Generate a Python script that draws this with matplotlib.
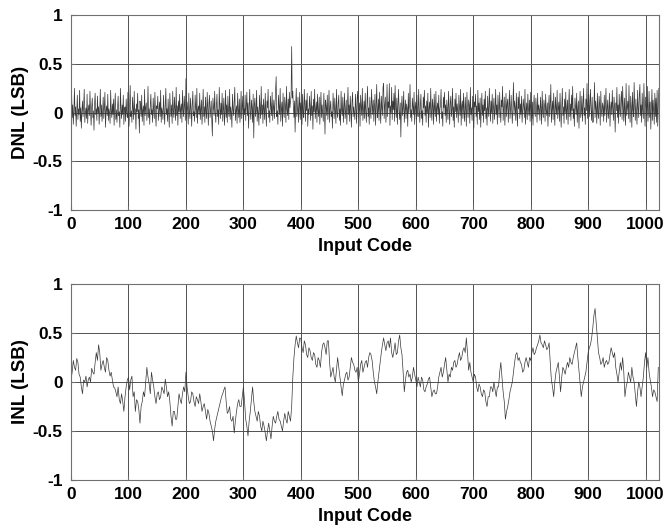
import numpy as np
import matplotlib
matplotlib.use('Agg')
import matplotlib.pyplot as plt

# DNL read per code, INL every 2 codes
dnl_step = 1
dnl = [
    0.03, 0.21, -0.05, 0.08, -0.12, 0.02, 0.25, -0.03, 0.06, -0.14, 0.01, 0.18, -0.07, 0.04, -0.02, 0.23,
    -0.09, 0.05, -0.16, 0.02, 0.12, -0.04, 0.07, 0.24, -0.1, 0.0, 0.05, -0.06, 0.19, -0.11, 0.03, 0.08,
    -0.03, 0.22, 0.01, -0.13, 0.06, 0.15, -0.05, 0.02, -0.18, 0.09, 0.2, -0.02, 0.04, -0.08, 0.17, 0.0,
    0.06, -0.12, 0.03, 0.24, -0.04, 0.08, -0.09, 0.01, 0.16, -0.06, 0.05, 0.21, -0.15, 0.02, 0.07, -0.03,
    0.19, -0.08, 0.04, 0.0, -0.11, 0.23, 0.02, -0.05, 0.09, -0.02, 0.14, -0.13, 0.06, 0.2, -0.07, 0.03,
    -0.1, 0.05, 0.17, -0.03, 0.01, -0.15, 0.25, 0.04, -0.06, 0.08, -0.02, 0.18, -0.12, 0.03, 0.06, -0.09,
    0.14, 0.0, -0.05, 0.21, 0.03, -0.14, 0.07, 0.28, -0.04, 0.02, -0.1, 0.16, 0.05, -0.07, 0.22, -0.02,
    0.04, -0.17, 0.09, 0.01, 0.2, -0.06, 0.03, -0.21, 0.12, 0.06, -0.04, 0.18, -0.09, 0.02, 0.07, -0.13,
    0.24, -0.03, 0.05, 0.1, -0.08, 0.01, 0.27, -0.05, 0.04, -0.12, 0.08, 0.19, -0.02, 0.03, -0.1, 0.15,
    0.02, -0.06, 0.21, 0.0, -0.14, 0.07, 0.04, 0.17, -0.08, 0.02, 0.11, -0.04, 0.23, -0.1, 0.05, 0.01,
    -0.07, 0.18, 0.03, -0.12, 0.06, 0.25, -0.02, 0.04, -0.09, 0.14, 0.0, -0.15, 0.2, 0.05, -0.04, 0.08,
    -0.11, 0.22, 0.02, -0.05, 0.16, 0.03, -0.08, 0.26, -0.03, 0.07, -0.13, 0.12, 0.01, 0.19, -0.06, 0.04,
    0.09, -0.1, 0.23, 0.02, -0.04, 0.17, 0.06, -0.08, 0.35, -0.05, 0.11, 0.03, -0.12, 0.2, 0.0, -0.06,
    0.15, 0.04, -0.14, 0.08, 0.22, -0.03, 0.01, -0.09, 0.18, 0.05, -0.05, 0.25, -0.11, 0.03, 0.07, -0.02,
    0.2, -0.07, 0.04, 0.13, -0.12, 0.02, 0.24, -0.04, 0.06, -0.1, 0.16, 0.01, -0.06, 0.21, 0.03, -0.13,
    0.09, 0.18, -0.05, 0.02, 0.12, -0.08, -0.24, 0.15, 0.06, -0.03, 0.22, 0.0, -0.1, 0.07, 0.19, -0.04,
    0.03, -0.12, 0.26, 0.05, -0.06, 0.1, -0.02, 0.2, -0.09, 0.04, 0.15, -0.13, 0.01, 0.23, -0.05, 0.08,
    -0.1, 0.17, 0.02, -0.04, 0.24, -0.07, 0.06, 0.0, -0.15, 0.19, 0.04, -0.03, 0.11, 0.26, -0.08, 0.02,
    0.07, -0.11, 0.2, 0.03, -0.05, 0.14, -0.1, 0.01, 0.22, -0.06, 0.05, 0.17, -0.13, 0.04, -0.02, 0.18,
    -0.08, 0.06, 0.21, -0.03, 0.1, -0.16, 0.03, 0.24, 0.0, -0.07, 0.13, 0.05, -0.1, 0.19, -0.26, 0.08,
    0.15, -0.04, 0.02, 0.23, -0.09, 0.06, 0.0, -0.13, 0.18, 0.04, -0.06, 0.27, -0.02, 0.08, -0.11, 0.14,
    0.03, -0.07, 0.2, 0.01, -0.14, 0.12, 0.05, 0.24, -0.05, 0.02, -0.1, 0.17, 0.07, -0.03, 0.21, -0.08,
    0.04, 0.13, -0.06, 0.09, 0.22, 0.37, -0.04, 0.02, -0.12, 0.18, 0.06, -0.02, 0.25, -0.09, 0.03, 0.11,
    -0.14, 0.2, 0.01, -0.05, 0.16, 0.07, -0.1, 0.27, 0.03, -0.03, 0.14, -0.07, 0.21, 0.05, 0.12, 0.18,
    0.68, 0.15, 0.22, 0.06, -0.05, 0.12, -0.2, 0.08, 0.25, -0.04, 0.02, 0.16, -0.1, 0.05, 0.21, -0.07,
    0.1, 0.03, -0.12, 0.19, 0.0, -0.05, 0.24, 0.06, -0.09, 0.13, 0.02, 0.2, -0.14, 0.04, -0.02, 0.17,
    0.05, -0.08, 0.22, -0.03, 0.07, -0.17, 0.14, 0.01, 0.24, -0.06, 0.03, 0.11, -0.1, 0.19, 0.02, -0.04,
    0.16, -0.12, 0.04, 0.21, -0.05, 0.08, 0.0, -0.09, 0.2, 0.03, -0.22, 0.13, 0.06, -0.03, 0.18, -0.07,
    0.02, 0.23, -0.1, 0.05, 0.12, -0.04, 0.01, -0.16, 0.2, 0.07, -0.06, 0.15, 0.03, -0.11, 0.24, 0.0,
    -0.05, 0.1, 0.18, -0.08, 0.04, -0.13, 0.22, 0.02, -0.03, 0.16, -0.1, 0.06, 0.2, -0.06, 0.01, 0.13,
    -0.12, 0.05, 0.26, -0.02, 0.08, -0.09, 0.17, 0.03, -0.15, 0.11, 0.21, -0.04, 0.06, 0.0, -0.07, 0.19,
    0.04, -0.11, 0.15, 0.22, -0.05, 0.02, 0.1, -0.14, 0.18, 0.06, -0.03, 0.25, -0.08, 0.03, 0.12, -0.06,
    0.2, 0.01, -0.1, 0.07, 0.27, -0.04, 0.05, -0.12, 0.16, 0.02, -0.06, 0.24, 0.09, -0.02, 0.13, -0.09,
    0.04, 0.19, -0.13, 0.06, 0.29, -0.05, 0.01, 0.14, -0.08, 0.21, 0.03, -0.11, 0.17, 0.05, -0.03, 0.26,
    0.3, -0.06, 0.08, 0.16, -0.1, 0.02, 0.29, -0.04, 0.11, 0.05, 0.3, -0.13, 0.07, 0.0, 0.26, -0.07,
    0.12, 0.03, 0.2, -0.09, 0.28, 0.04, -0.05, 0.15, -0.12, 0.08, 0.24, 0.01, -0.07, 0.1, -0.25, 0.06,
    0.17, -0.03, 0.05, 0.22, -0.1, 0.02, 0.13, -0.06, 0.09, 0.04, -0.14, 0.2, 0.0, 0.07, 0.29, -0.05,
    0.03, -0.09, 0.15, 0.06, -0.02, 0.21, -0.12, 0.05, 0.11, -0.07, 0.18, 0.01, -0.04, 0.24, 0.03, -0.1,
    0.08, 0.19, -0.06, 0.02, -0.13, 0.16, 0.05, 0.23, -0.03, 0.07, -0.1, 0.12, 0.0, 0.2, -0.15, 0.04,
    0.11, -0.05, 0.25, 0.02, -0.08, 0.14, 0.06, -0.12, 0.19, 0.03, -0.04, 0.22, -0.09, 0.05, 0.1, -0.02,
    0.18, -0.11, 0.04, 0.07, 0.24, -0.06, 0.01, -0.14, 0.16, 0.05, 0.21, -0.03, 0.08, -0.1, 0.13, 0.02,
    -0.07, 0.22, 0.04, -0.12, 0.1, 0.17, -0.04, 0.03, 0.25, -0.08, 0.06, -0.15, 0.14, 0.01, 0.2, -0.05,
    0.09, 0.02, -0.1, 0.18, 0.05, -0.03, 0.24, -0.13, 0.07, 0.12, -0.06, 0.2, 0.0, -0.09, 0.16, 0.04,
    -0.14, 0.21, 0.03, -0.05, 0.13, 0.08, -0.11, 0.26, -0.02, 0.05, -0.08, 0.17, 0.02, -0.16, 0.11, 0.06,
    0.19, -0.04, 0.07, -0.12, 0.23, 0.01, 0.1, -0.07, 0.15, -0.15, 0.04, 0.2, -0.03, 0.08, -0.1, 0.14,
    0.02, 0.22, -0.06, 0.05, -0.13, 0.17, 0.03, -0.04, 0.25, 0.06, -0.09, 0.12, 0.0, 0.19, -0.11, 0.04,
    0.15, -0.07, 0.03, 0.24, -0.02, 0.08, -0.12, 0.18, 0.05, -0.05, 0.21, 0.01, -0.1, 0.13, 0.06, 0.27,
    -0.08, 0.04, 0.16, -0.13, 0.02, 0.2, -0.04, 0.09, 0.14, -0.1, 0.05, 0.23, -0.06, 0.03, 0.18, 0.01,
    -0.11, 0.07, 0.31, -0.03, 0.12, 0.05, -0.08, 0.2, 0.0, -0.14, 0.16, 0.04, 0.22, -0.06, 0.09, -0.02,
    0.17, -0.1, 0.03, 0.14, 0.06, -0.05, 0.24, -0.12, 0.02, 0.1, -0.07, 0.19, 0.04, -0.03, 0.13, -0.09,
    0.21, 0.02, -0.06, 0.11, -0.13, 0.07, 0.18, 0.0, -0.04, 0.15, 0.05, -0.1, 0.2, -0.02, 0.08, 0.03,
    -0.08, 0.16, 0.04, -0.12, 0.22, 0.01, -0.05, 0.13, 0.07, -0.09, 0.19, 0.02, -0.03, 0.1, -0.14, 0.06,
    0.18, -0.04, 0.08, 0.29, -0.1, 0.03, 0.12, -0.07, 0.2, 0.01, -0.13, 0.16, 0.05, -0.02, 0.23, -0.06,
    0.04, 0.11, -0.09, 0.2, 0.02, -0.15, 0.07, 0.25, -0.03, 0.06, -0.11, 0.14, 0.0, 0.21, -0.07, 0.03,
    0.13, -0.12, 0.05, 0.24, -0.04, 0.09, -0.08, 0.18, 0.02, 0.27, -0.06, 0.04, -0.14, 0.15, 0.07, -0.02,
    0.2, -0.1, 0.03, 0.12, -0.16, 0.06, 0.22, -0.05, 0.01, 0.17, -0.09, 0.08, 0.25, -0.03, 0.05, -0.12,
    0.14, 0.02, 0.3, -0.06, 0.09, 0.19, -0.04, 0.07, 0.24, 0.03, -0.08, 0.16, -0.1, -0.09, 0.05, 0.31,
    -0.05, 0.12, 0.04, -0.11, 0.2, 0.0, -0.06, 0.17, 0.08, -0.13, 0.22, 0.02, -0.04, 0.1, 0.06, -0.09,
    0.18, -0.03, 0.07, 0.25, -0.1, 0.04, 0.13, -0.06, 0.01, 0.2, -0.14, 0.05, 0.11, -0.02, 0.23, 0.03,
    -0.08, 0.16, 0.06, -0.2, 0.1, 0.02, 0.26, -0.05, 0.08, -0.11, 0.19, 0.03, -0.04, 0.14, 0.22, -0.07,
    0.27, 0.04, -0.09, 0.15, 0.02, -0.13, 0.3, -0.03, 0.06, 0.12, -0.06, 0.28, 0.01, -0.1, 0.17, 0.05,
    -0.15, 0.21, 0.03, -0.04, 0.31, 0.07, -0.08, 0.14, 0.0, -0.12, 0.23, 0.05, -0.05, 0.18, 0.29, -0.03,
    0.08, -0.1, 0.2, 0.02, -0.06, 0.3, 0.04, -0.14, 0.16, 0.06, -0.03, 0.27, -0.09, 0.01, 0.22, -0.05,
    0.11, -0.17, 0.05, 0.24, -0.08, 0.13, 0.02, -0.12, 0.2, -0.04, 0.15, -0.1, 0.23, -0.14, 0.06, 0.25,
]

inl_step = 2
inl = [
    0.02, 0.1, 0.22, 0.15, 0.12, 0.24, 0.2, 0.08, 0.05, -0.05, -0.12, 0.02, 0.0, 0.06, -0.05, 0.02,
    0.05, 0.0, 0.14, 0.1, 0.08, 0.2, 0.3, 0.22, 0.38, 0.3, 0.12, 0.18, 0.22, 0.15, 0.1, 0.25,
    0.22, 0.12, 0.06, 0.1, 0.02, -0.05, -0.06, -0.1, -0.15, -0.05, -0.18, -0.22, -0.12, -0.2, -0.3, -0.15,
    -0.05, 0.02, 0.05, -0.08, 0.02, 0.06, -0.15, -0.1, -0.3, -0.18, -0.2, -0.28, -0.42, -0.25, -0.2, -0.1,
    -0.15, 0.0, 0.15, 0.05, -0.02, -0.12, 0.1, 0.02, -0.05, -0.15, -0.22, -0.12, -0.1, -0.18, -0.15, -0.05,
    -0.08, -0.12, 0.03, -0.05, -0.15, -0.1, -0.2, -0.35, -0.45, -0.3, -0.3, -0.38, -0.38, -0.25, -0.12, -0.18,
    -0.22, -0.12, -0.05, -0.1, 0.1, -0.05, -0.15, -0.22, -0.2, -0.1, -0.12, -0.2, -0.25, -0.15, -0.18, -0.22,
    -0.12, -0.2, -0.3, -0.25, -0.22, -0.3, -0.38, -0.28, -0.32, -0.4, -0.45, -0.5, -0.6, -0.48, -0.4, -0.35,
    -0.3, -0.25, -0.2, -0.15, -0.12, -0.08, -0.05, -0.2, -0.32, -0.3, -0.25, -0.38, -0.4, -0.35, -0.52, -0.4,
    -0.3, -0.22, -0.18, -0.25, -0.25, -0.15, -0.05, -0.2, -0.38, -0.45, -0.55, -0.4, -0.3, -0.18, -0.05, -0.2,
    -0.3, -0.35, -0.4, -0.3, -0.35, -0.45, -0.5, -0.4, -0.45, -0.52, -0.6, -0.5, -0.42, -0.5, -0.58, -0.45,
    -0.35, -0.4, -0.42, -0.35, -0.3, -0.38, -0.4, -0.45, -0.5, -0.4, -0.32, -0.38, -0.42, -0.3, -0.35, -0.4,
    -0.25, 0.05, 0.25, 0.38, 0.47, 0.4, 0.35, 0.45, 0.44, 0.35, 0.3, 0.42, 0.38, 0.28, 0.25, 0.35,
    0.32, 0.25, 0.22, 0.3, 0.28, 0.18, 0.15, 0.25, 0.22, 0.15, 0.3, 0.38, 0.4, 0.35, 0.28, 0.42,
    0.42, 0.2, 0.05, 0.1, 0.15, 0.05, 0.0, 0.12, 0.25, 0.15, 0.05, -0.05, -0.14, -0.02, 0.02, 0.08,
    0.1, 0.02, 0.05, 0.15, 0.25, 0.2, 0.18, 0.12, 0.1, 0.15, 0.0, 0.08, 0.18, 0.22, 0.1, 0.15,
    0.2, 0.22, 0.15, 0.25, 0.3, 0.28, 0.22, 0.1, 0.0, -0.05, -0.12, 0.0, 0.1, 0.2, 0.3, 0.38,
    0.45, 0.38, 0.32, 0.4, 0.42, 0.35, 0.45, 0.3, 0.25, 0.32, 0.4, 0.28, 0.3, 0.42, 0.48, 0.35,
    0.28, 0.1, -0.1, 0.02, 0.1, 0.12, 0.05, 0.08, 0.0, 0.05, 0.15, 0.08, 0.02, -0.05, 0.05, 0.0,
    -0.05, 0.05, 0.02, -0.08, -0.1, -0.05, -0.02, 0.03, 0.05, -0.05, -0.15, -0.1, -0.08, -0.12, -0.12, -0.05,
    0.05, 0.1, 0.15, 0.05, 0.1, 0.18, 0.25, 0.12, 0.0, 0.08, 0.05, 0.15, 0.12, 0.2, 0.22, 0.15,
    0.18, 0.25, 0.3, 0.22, 0.25, 0.32, 0.35, 0.3, 0.45, 0.3, 0.12, 0.2, 0.1, 0.05, 0.0, 0.08,
    0.05, -0.05, -0.1, -0.02, -0.05, -0.12, -0.15, -0.08, -0.1, -0.2, -0.25, -0.15, -0.15, -0.05, -0.05, -0.1,
    0.0, -0.08, -0.15, -0.05, -0.05, 0.1, 0.2, 0.05, -0.1, -0.2, -0.38, -0.3, -0.25, -0.18, -0.1, -0.05,
    0.0, 0.1, 0.2, 0.28, 0.3, 0.22, 0.25, 0.2, 0.18, 0.1, 0.12, 0.2, 0.25, 0.2, 0.15, 0.25,
    0.22, 0.3, 0.35, 0.28, 0.3, 0.35, 0.38, 0.42, 0.48, 0.4, 0.38, 0.35, 0.42, 0.38, 0.33, 0.35,
    0.4, 0.2, 0.02, -0.05, -0.15, 0.0, 0.1, 0.15, 0.2, 0.05, -0.1, 0.05, 0.15, 0.12, 0.08, 0.15,
    0.2, 0.15, 0.25, 0.2, 0.18, 0.25, 0.3, 0.35, 0.4, 0.25, 0.12, 0.0, -0.15, -0.05, 0.0, 0.05,
    0.1, 0.2, 0.3, 0.35, 0.38, 0.45, 0.55, 0.68, 0.75, 0.6, 0.45, 0.3, 0.25, 0.18, 0.2, 0.25,
    0.15, 0.2, 0.22, 0.18, 0.2, 0.28, 0.35, 0.3, 0.25, 0.3, 0.15, 0.08, 0.0, 0.1, 0.2, 0.12,
    0.25, 0.1, -0.15, -0.05, 0.0, 0.1, 0.05, 0.0, 0.15, 0.05, 0.0, -0.12, -0.25, -0.1, 0.0, -0.05,
    -0.15, -0.05, 0.05, 0.2, 0.3, 0.15, 0.25, 0.1, 0.02, -0.05, -0.15, -0.08, -0.1, -0.15, -0.2, 0.15,
]

xticks = [0, 100, 200, 300, 400, 500, 600, 700, 800, 900, 1000]
yticks = [-1, -0.5, 0, 0.5, 1]
yticklabels = ['-1', '-0.5', '0', '0.5', '1']

plt.rcParams['font.family'] = ['Liberation Sans Narrow', 'Liberation Sans']
plt.rcParams['font.weight'] = 'bold'

fig = plt.figure(figsize=(6.68, 5.29), dpi=100)
ax1 = fig.add_axes([0.1063, 0.603, 0.880, 0.368])
ax2 = fig.add_axes([0.1063, 0.0926, 0.880, 0.3705])

series = [(ax1, dnl, dnl_step, 'DNL (LSB)'), (ax2, inl, inl_step, 'INL (LSB)')]
for ax, y, step, lab in series:
    x = np.arange(len(y)) * step
    ax.plot(x, y, color='#383838', lw=0.5)
    ax.set_xlim(0, 1023)
    ax.set_ylim(-1, 1)
    ax.set_xticks(xticks)
    ax.set_yticks(yticks)
    ax.set_yticklabels(yticklabels)
    ax.grid(True, color='#505050', lw=0.7, ls='-')
    ax.set_axisbelow(True)
    for s in ax.spines.values():
        s.set_color('#707070')
        s.set_linewidth(0.8)
    ax.tick_params(direction='in', length=3, color='#707070', labelsize=12.5)
    ax.tick_params(axis='x', pad=5)
    ax.tick_params(axis='y', pad=6)
    for t in ax.get_xticklabels() + ax.get_yticklabels():
        t.set_fontweight('bold')
    ax.set_ylabel(lab, fontsize=13.5, fontweight='bold', family='Liberation Sans', labelpad=3)
    ax.set_xlabel('Input Code', fontsize=13, fontweight='bold', labelpad=4)

fig.savefig('out.png', dpi=100)
